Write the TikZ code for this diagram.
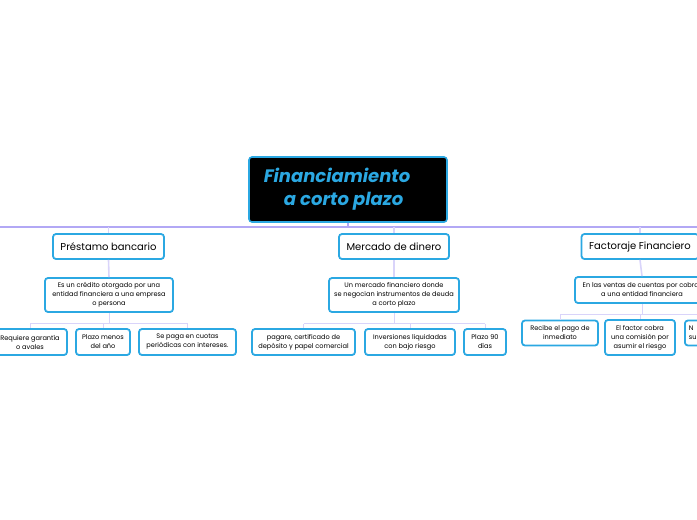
\documentclass[tikz,border=0pt]{standalone}
\usepackage{fontspec}
\setmainfont{Poppins}
\usepackage{xcolor}
\usepackage{tikz}
\usetikzlibrary{calc,positioning}
\definecolor{mapblue}{HTML}{2BA8E2}
\definecolor{busline}{HTML}{B2A8F5}
\definecolor{subline}{HTML}{D9D4FA}
\tikzset{
  rootnode/.style = {draw=mapblue, line width=1.6pt, rounded corners=3pt, fill=black, text=mapblue, align=left, font=\fontsize{18}{23}\selectfont\bfseries\itshape, minimum width=198pt, minimum height=65pt},
  topicnode/.style = {draw=mapblue, line width=1.8pt, rounded corners=3pt, fill=white, align=center, minimum height=25pt, inner sep=1pt, font=\fontsize{10}{12}\selectfont},
  subnode/.style = {draw=mapblue, line width=1.8pt, rounded corners=3pt, fill=white, align=center, inner sep=1pt, font=\fontsize{6.6}{9}\selectfont},
  link/.style = {draw=busline, line width=1.4pt},
  sublink/.style = {draw=subline, line width=1.6pt},
  leaflink/.style = {draw=subline, line width=1pt}
}
\begin{document}
\begin{tikzpicture}[x=1pt, y=-1pt]
\useasboundingbox (0,0) rectangle (697,520);
\clip (0,0) rectangle (697,520);

% central topic
\node [rootnode] (root) at (348,189.5) {Financiamiento\hspace*{22pt}\\\hspace*{20pt}a corto plazo};

% main topics
\node [topicnode, minimum width=111pt] (pb) at (108.5,246.5) {Préstamo bancario};
\node [topicnode, minimum width=110pt] (md) at (394,246.5) {Mercado de dinero};
\node [topicnode, minimum width=117pt] (ff) at (640,246.5) {Factoraje Financiero};

% descriptions
\node [subnode, minimum width=128pt, minimum height=34pt] (pbd) at (109,295) {Es un crédito otorgado por una\\entidad financiera a una empresa\\o persona};
\node [subnode, minimum width=130pt, minimum height=34pt] (mdd) at (394,295) {Un mercado financiero donde\\se negocian instrumentos de deuda\\a corto plazo};
\node [subnode, minimum width=134pt, minimum height=26pt] (ffd) at (642,290) {En las ventas de cuentas por cobrar\\a una entidad financiera};

% details
\node [subnode, minimum width=74pt, minimum height=26pt] (pb1) at (30,342) {Requiere garantía\\o avales};
\node [subnode, minimum width=54pt, minimum height=26pt] (pb2) at (103,342) {Plazo menos\\del año};
\node [subnode, minimum width=97pt, minimum height=26pt] (pb3) at (187.5,342) {Se paga en cuotas\\periódicas con intereses.};
\node [subnode, minimum width=103pt, minimum height=26pt] (md1) at (303.5,342) {pagare, certificado de\\depósito y papel comercial};
\node [subnode, minimum width=90pt, minimum height=26pt] (md2) at (410,342) {Inversiones liquidadas\\con bajo riesgo};
\node [subnode, minimum width=42pt, minimum height=26pt] (md3) at (485,342) {Plazo 90\\días};
\node [subnode, minimum width=76pt, minimum height=25pt] (ff1) at (560,333) {Recibe el pago de\\inmediato};
\node [subnode, minimum width=70pt, minimum height=35pt] (ff2) at (640,337.5) {El factor cobra\\una comisión por\\asumir el riesgo};
\node [subnode, text width=44pt, inner xsep=4pt, minimum height=25pt, anchor=west, align=left] (ff3) at (684,333) {N\\su};

% connectors
\coordinate (busL) at (-10,227);
\coordinate (busR) at (710,227);
\draw [link] (busL) -- (busR);
\draw [link] (root.south) -- (root.south |- busL);
\foreach \t in {pb,md,ff}
  \draw [sublink] (\t.north |- busL) -- (\t.north);
\draw [sublink] (pb.south) -- (pbd.north);
\draw [sublink] (md.south) -- (mdd.north);
\draw [sublink] (ff.south) -- (ffd.north);

\draw [leaflink] (pbd.south) -- ++(0,11) coordinate (pbbus);
\draw [leaflink] (pb1.north |- pbbus) -- (pb3.north |- pbbus);
\foreach \t in {pb1,pb2,pb3}
  \draw [leaflink] (\t.north |- pbbus) -- (\t.north);

\draw [leaflink] (mdd.south) -- ++(0,11) coordinate (mdbus);
\draw [leaflink] (md1.north |- mdbus) -- (md3.north |- mdbus);
\foreach \t in {md1,md2,md3}
  \draw [leaflink] (\t.north |- mdbus) -- (\t.north);

\draw [leaflink] (ffd.south) -- ++(0,11) coordinate (ffbus);
\draw [leaflink] (ff1.north |- ffbus) -- (ff3.north |- ffbus);
\foreach \t in {ff1,ff2,ff3}
  \draw [leaflink] (\t.north |- ffbus) -- (\t.north);
\end{tikzpicture}
\end{document}
